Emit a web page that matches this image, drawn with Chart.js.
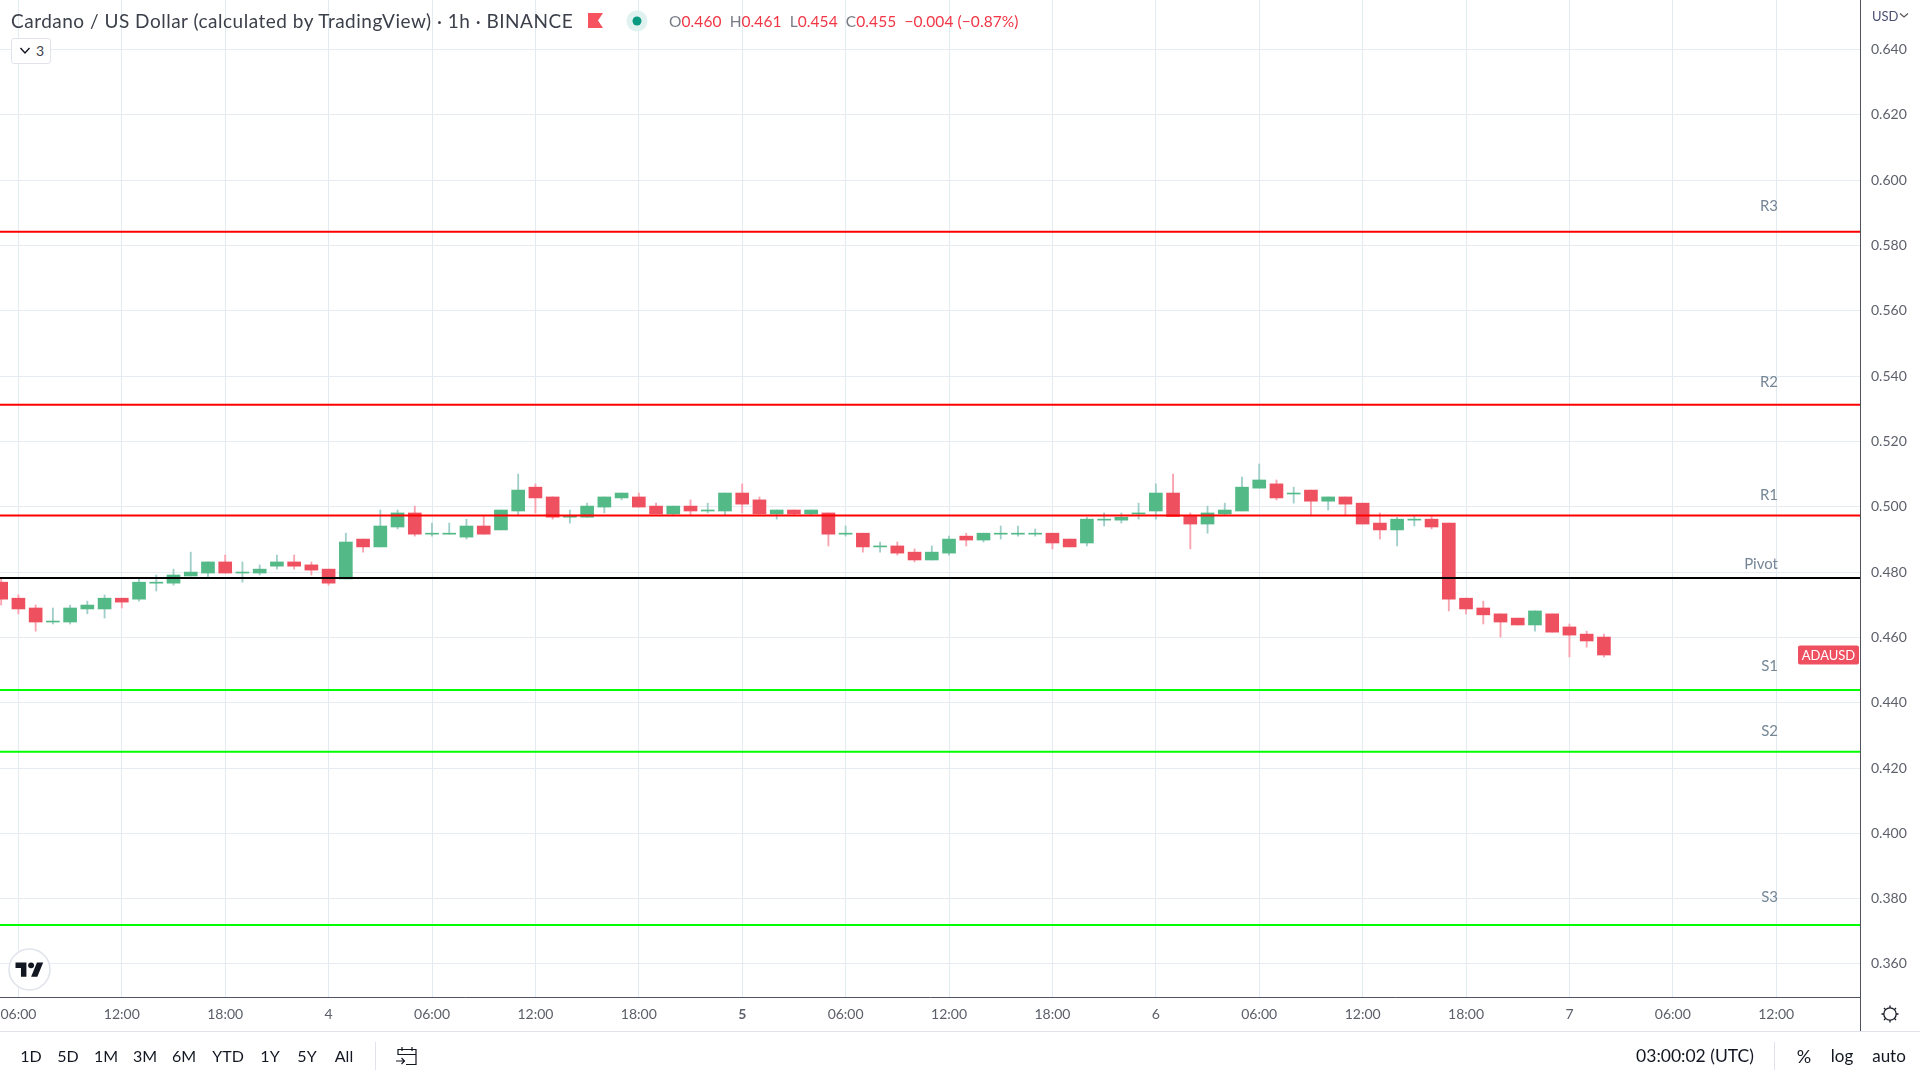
<!DOCTYPE html>
<html>
<head>
<meta charset="utf-8">
<title>Cardano / US Dollar</title>
<script src="https://cdn.jsdelivr.net/npm/chart.js@4"></script>
<style>
html, body { margin: 0; padding: 0; background: #fff; width: 1920px; height: 1080px; overflow: hidden; }
body { font-family: Lato, sans-serif; position: relative; }
canvas { position: absolute; left: 0; top: 0; }
.t { position: absolute; white-space: nowrap; line-height: 20px; transform: translateY(-50%); }
.c { transform: translate(-50%, -50%); }
.tool { font-size: 16px; color: #131722; }
.up { color: #f23645; }
#sep1, #sep2, #line-bottom, #axis-right { position: absolute; background: #e0e3eb; }
svg { position: absolute; }
</style>
</head>
<body>
<canvas id="grafico" width="1920" height="1080"></canvas>

<div class="t" style="left:11px;top:21px;font-size:19px;letter-spacing:.5px;color:#3c404b">Cardano / US Dollar (calculated by TradingView) · 1h · BINANCE</div>
<svg style="left:588px;top:13px" width="16" height="16"><polygon points="0,0 15,0 10,7.5 15,15 0,15" fill="#f7525f"/></svg>
<svg style="left:626px;top:10px" width="22" height="22"><circle cx="11" cy="11" r="10.5" fill="#e0f2ef"/><circle cx="11" cy="11" r="4.5" fill="#089981"/></svg>
<div class="t" style="left:669px;top:21px;font-size:15.5px;letter-spacing:.08px;color:#787b86">O<span class="up">0.460</span>&nbsp; H<span class="up">0.461</span>&nbsp; L<span class="up">0.454</span>&nbsp; C<span class="up">0.455</span>&nbsp; <span class="up">−0.004 (−0.87%)</span></div>

<div style="position:absolute;left:11px;top:38px;width:38px;height:24px;border:1px solid #e0e3eb;border-radius:3px;background:#fff"></div>
<svg style="left:19px;top:46px" width="12" height="10"><path d="M1.5 2 L6 7 L10.5 2" fill="none" stroke="#131722" stroke-width="1.4"/></svg>
<div class="t" style="left:36px;top:51px;font-size:14px;color:#3c404b">3</div>

<svg style="left:8px;top:948px" width="43" height="43"><circle cx="21.5" cy="21.5" r="20.5" fill="#fff" stroke="#e0e3eb" stroke-width="1.5"/><g transform="translate(7.5,11.5) scale(0.78)" fill="#131722"><path d="M14 22H7V11H0V4h14v18zM28 22h-8l7.5-18h8L28 22z"/><circle cx="20" cy="7.5" r="3.8"/></g></svg>

<div class="t" style="left:1872px;top:16px;font-size:13px;color:#4a4f73">USD</div>
<svg style="left:1899px;top:12px" width="10" height="8"><path d="M1 1.5 L5 5 L9 1.5" fill="none" stroke="#555" stroke-width="1.2"/></svg>

<div id="axis-right" style="left:1860px;top:997px;width:1px;height:34px;background:#50535e"></div>
<div id="line-bottom" style="left:0;top:1031px;width:1920px;height:1px"></div>
<svg style="left:1880px;top:1004px" width="20" height="20"><circle cx="10" cy="10" r="6.2" fill="none" stroke="#131722" stroke-width="1.3"/><path d="M10 1.5v2.3M10 16.2v2.3M1.5 10h2.3M16.2 10h2.3M4 4l1.6 1.6M14.4 14.4l1.6 1.6M4 16l1.6-1.6M14.4 5.6l1.6-1.6" stroke="#131722" stroke-width="1.3"/></svg>

<div class="t c tool" style="left:31px;top:1056px">1D</div>
<div class="t c tool" style="left:68px;top:1056px">5D</div>
<div class="t c tool" style="left:106px;top:1056px">1M</div>
<div class="t c tool" style="left:145px;top:1056px">3M</div>
<div class="t c tool" style="left:184px;top:1056px">6M</div>
<div class="t c tool" style="left:228px;top:1056px">YTD</div>
<div class="t c tool" style="left:270px;top:1056px">1Y</div>
<div class="t c tool" style="left:307px;top:1056px">5Y</div>
<div class="t c tool" style="left:344px;top:1056px">All</div>
<div id="sep1" style="left:375px;top:1042px;width:1px;height:28px"></div>
<svg style="left:395px;top:1046px" width="24" height="21" fill="none" stroke="#131722" stroke-width="1.2"><path d="M3 9V3.5H21V18.5H11M3 8.5H21M7 1V5M17 1V5M1 15H9M6.5 12L9.5 15L6.5 18"/></svg>

<div class="t c" style="left:1695px;top:1056px;font-size:17.5px;color:#131722">03:00:02 (UTC)</div>
<div id="sep2" style="left:1774px;top:1042px;width:1px;height:28px"></div>
<div class="t c tool" style="left:1804px;top:1056px;font-size:18px">%</div>
<div class="t c tool" style="left:1842px;top:1056px;font-size:17px">log</div>
<div class="t c tool" style="left:1889px;top:1056px;font-size:17px">auto</div>

<script>
// hours counted from 06:00 on the 3rd
const opens = [.4769,.4720,.4690,.4647,.4647,.4687,.4687,.4720,.4717,.4766,.4766,.4788,.4797,.4831,.4797,.4797,.4818,.4831,.4822,.4809,.4779,.4901,.4877,.4938,.4981,.4916,.4916,.4907,.4941,.4929,.4987,.5060,.5030,.4968,.4968,.4999,.5027,.5030,.5002,.4978,.5002,.4987,.4987,.5042,.5021,.4978,.4990,.4978,.4981,.4916,.4919,.4877,.4880,.4861,.4837,.4858,.4910,.4898,.4916,.4916,.4916,.4919,.4901,.4889,.4959,.4959,.4978,.4987,.5042,.4972,.4947,.4978,.4987,.5057,.5070,.5039,.5051,.5017,.5030,.5011,.4950,.4929,.4959,.4962,.4950,.4720,.4690,.4672,.4659,.4638,.4672,.4632,.4610,.4601];
const highs = [.4782,.4730,.4699,.4690,.4699,.4711,.4730,.4720,.4782,.4791,.4809,.4861,.4831,.4852,.4831,.4822,.4852,.4852,.4831,.4809,.4919,.4901,.4990,.4990,.5002,.4950,.4950,.4962,.4972,.4990,.5100,.5070,.5030,.4990,.5011,.5030,.5042,.5042,.5011,.5002,.5021,.5011,.5042,.5070,.5030,.4990,.4990,.4990,.4981,.4941,.4919,.4892,.4892,.4871,.4880,.4910,.4919,.4919,.4941,.4941,.4932,.4919,.4901,.4968,.4981,.4981,.5011,.5070,.5100,.4981,.5002,.5011,.5091,.5131,.5082,.5060,.5051,.5030,.5030,.5011,.4981,.4968,.4972,.4972,.4950,.4720,.4711,.4672,.4659,.4681,.4672,.4641,.4619,.4610];
const lows = [.4699,.4672,.4619,.4641,.4641,.4672,.4659,.4690,.4711,.4742,.4760,.4788,.4782,.4797,.4769,.4791,.4809,.4809,.4791,.4760,.4779,.4861,.4877,.4932,.4910,.4910,.4916,.4901,.4916,.4929,.4975,.4981,.4962,.4950,.4968,.4981,.5021,.4999,.4978,.4972,.4975,.4981,.4975,.4981,.4978,.4962,.4975,.4975,.4880,.4910,.4861,.4861,.4852,.4831,.4837,.4852,.4880,.4892,.4901,.4910,.4910,.4871,.4877,.4880,.4941,.4950,.4962,.4962,.4970,.4871,.4919,.4975,.4987,.5057,.5021,.5011,.4972,.4990,.4972,.4947,.4901,.4880,.4941,.4932,.4681,.4672,.4641,.4601,.4638,.4619,.4616,.4540,.4570,.4540];
const closes = [.4717,.4687,.4647,.4650,.4690,.4699,.4720,.4708,.4769,.4769,.4791,.4800,.4831,.4797,.4800,.4809,.4831,.4818,.4806,.4766,.4892,.4877,.4941,.4981,.4916,.4919,.4919,.4941,.4916,.4990,.5051,.5027,.4968,.4972,.5002,.5030,.5042,.4999,.4978,.5002,.4987,.4990,.5042,.5008,.4978,.4990,.4978,.4990,.4916,.4919,.4877,.4880,.4858,.4837,.4861,.4901,.4898,.4919,.4919,.4919,.4919,.4889,.4877,.4962,.4962,.4968,.4981,.5042,.4970,.4947,.4981,.4990,.5060,.5082,.5027,.5042,.5017,.5030,.5008,.4947,.4929,.4962,.4962,.4938,.4717,.4687,.4669,.4647,.4638,.4681,.4616,.4607,.4589,.4546];
const hours = opens.map((_, i) => i - 1);

const tickHours = [0, 6, 12, 18, 24, 30, 36, 42, 48, 54, 60, 66, 72, 78, 84, 90, 96, 102];
const tickLabels = ['06:00', '12:00', '18:00', '4', '06:00', '12:00', '18:00', '5', '06:00', '12:00', '18:00', '6', '06:00', '12:00', '18:00', '7', '06:00', '12:00'];
const boldTicks = ['5'];
const priceTicks = [.36, .38, .40, .42, .44, .46, .48, .50, .52, .54, .56, .58, .60, .62, .64];

const levelNames = ['R3', 'R2', 'R1', 'Pivot', 'S1', 'S2', 'S3'];
const levelValues = [.5842, .5312, .4973, .4782, .4439, .4250, .3719];
const levelLabelAt = [.5919, .5381, .5037, .4825, .4513, .4314, .3806];
const levelColors = ['#ff0000', '#ff0000', '#ff0000', '#000000', '#00ff00', '#00ff00', '#00ff00'];

const lastPrice = .4546;
const xMin = -1.068, xMax = 106.86;
const yMin = .34989, yMax = .65516;

const GREEN = '#53b987', RED = '#ef5060';
const GREEN_WICK = '#a0cfca', RED_WICK = '#f7a3b0';
const subiu = hours.map((_, i) => closes[i] >= opens[i]);

const pavios = hours.map((h, i) => ({ x: h, y: [lows[i], highs[i]] }));
const corpos = hours.map((h, i) => ({ x: h, y: [Math.min(opens[i], closes[i]), Math.max(opens[i], closes[i])] }));

const linhas = levelNames.map((nome, i) => ({
    type: 'line',
    label: nome,
    data: [{ x: xMin, y: levelValues[i] }, { x: xMax, y: levelValues[i] }],
    borderColor: levelColors[i],
    borderWidth: 2,
    pointRadius: 0,
    order: 1
}));

// pivot names and the price tag on the right side
const rotulos = {
    id: 'rotulos',
    afterDatasetsDraw(chart) {
        const ctx = chart.ctx;
        const y = chart.scales.y;
        ctx.save();
        ctx.font = '15px Lato';
        ctx.fillStyle = '#758696';
        ctx.textAlign = 'right';
        ctx.textBaseline = 'middle';
        levelNames.forEach((nome, i) => ctx.fillText(nome, 1778, y.getPixelForValue(levelLabelAt[i])));
        const py = y.getPixelForValue(lastPrice);
        ctx.fillStyle = RED;
        ctx.beginPath();
        ctx.roundRect(1798, py - 9.5, 61, 19, 2);
        ctx.fill();
        ctx.fillStyle = '#fff';
        ctx.font = '13px Lato';
        ctx.textAlign = 'center';
        ctx.fillText('ADAUSD', 1828.5, py + 0.5);
        ctx.restore();
    }
};

function fonteX(c) {
    const rotulo = c.tick ? tickLabels[tickHours.indexOf(c.tick.value)] : '';
    return { family: 'Lato', size: 14, weight: boldTicks.includes(rotulo) ? 'bold' : 'normal' };
}

new Chart(document.getElementById('grafico'), {
    type: 'bar',
    data: {
        datasets: [
            {
                label: 'wick',
                data: pavios,
                backgroundColor: subiu.map(s => s ? GREEN_WICK : RED_WICK),
                barThickness: 1.2,
                grouped: false,
                order: 3
            },
            {
                label: 'body',
                data: corpos,
                backgroundColor: subiu.map(s => s ? GREEN : RED),
                barThickness: 13,
                grouped: false,
                minBarLength: 1,
                order: 2
            },
            ...linhas
        ]
    },
    plugins: [rotulos],
    options: {
        responsive: false,
        devicePixelRatio: 1,
        animation: false,
        layout: { padding: { left: 0, right: 0, top: 0, bottom: 49 } },
        plugins: { legend: { display: false }, tooltip: { enabled: false } },
        scales: {
            x: {
                type: 'linear',
                offset: false,
                min: xMin,
                max: xMax,
                afterBuildTicks(scale) { scale.ticks = tickHours.map(v => ({ value: v })); },
                afterFit(scale) { scale.height = 34; scale.paddingLeft = 0; scale.paddingRight = 0; },
                grid: { color: '#e1ecf2', drawTicks: false, offset: false },
                border: { color: '#50535e', width: 1 },
                ticks: {
                    autoSkip: false,
                    maxRotation: 0,
                    padding: 9,
                    color: '#5d606b',
                    font: fonteX,
                    callback: v => tickLabels[tickHours.indexOf(v)]
                }
            },
            y: {
                position: 'right',
                min: yMin,
                max: yMax,
                afterBuildTicks(scale) { scale.ticks = priceTicks.map(v => ({ value: v })); },
                afterFit(scale) { scale.width = 60; scale.paddingTop = 0; scale.paddingBottom = 0; },
                grid: { color: '#e6ecf2', drawTicks: false },
                border: { color: '#50535e', width: 1 },
                ticks: {
                    padding: 11,
                    color: '#5d606b',
                    font: { family: 'Lato', size: 14 },
                    callback: v => v.toFixed(3)
                }
            }
        }
    }
});
</script>
</body>
</html>
